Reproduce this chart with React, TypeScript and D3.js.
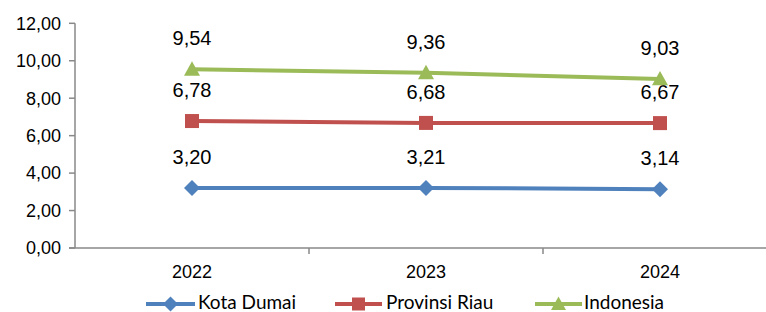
import React from 'react';
import * as d3 from 'd3';

const years = ['2022', '2023', '2024'];
const kotaDumai = [3.2, 3.21, 3.14];
const provinsiRiau = [6.78, 6.68, 6.67];
const indonesia = [9.54, 9.36, 9.03];
const yTicks = [0, 2, 4, 6, 8, 10, 12];

const series = [
  { name: 'Kota Dumai', values: kotaDumai, color: '#4F81BD', shape: 'diamond' },
  { name: 'Provinsi Riau', values: provinsiRiau, color: '#C0504D', shape: 'square' },
  { name: 'Indonesia', values: indonesia, color: '#9BBB59', shape: 'triangle' },
];

const fmt = (v: number) => v.toFixed(2).replace('.', ',');

function Marker({ shape, x, y, color, size }: { shape: string; x: number; y: number; color: string; size: number }) {
  if (shape === 'square') {
    return <rect x={x - size / 2} y={y - size / 2} width={size} height={size} fill={color} />;
  }
  if (shape === 'diamond') {
    const r = size / 2 + 1;
    return <path d={`M${x},${y - r}L${x + r},${y}L${x},${y + r}L${x - r},${y}Z`} fill={color} />;
  }
  const r = size / 2 + 1;
  return <path d={`M${x},${y - r}L${x + r},${y + r * 0.8}L${x - r},${y + r * 0.8}Z`} fill={color} />;
}

export default function App() {
  const width = 766;
  const height = 312;
  const left = 75;
  const top = 23.3;
  const bottom = 248;

  const x = d3.scaleBand<string>().domain(years).range([left, left + 234 * 3]);
  const y = d3.scaleLinear().domain([0, 12]).range([bottom, top]);
  const cx = (d: string) => x(d)! + x.bandwidth() / 2;

  const line = d3
    .line<number>()
    .x((_, i) => cx(years[i]))
    .y((v) => y(v));

  const axisColor = '#898989';
  const legend = [
    { x0: 146, x1: 195, tx: 198 },
    { x0: 335, x1: 382, tx: 386 },
    { x0: 535, x1: 582, tx: 584 },
  ];

  return (
    <svg width={width} height={height} style={{ position: 'absolute', left: 0, top: 0, background: '#fff' }}>
      {/* y axis */}
      <line x1={left} x2={left} y1={top} y2={bottom} stroke={axisColor} strokeWidth={1.5} />
      {yTicks.map((t) => (
        <g key={t}>
          <line x1={left - 6} x2={left} y1={y(t)} y2={y(t)} stroke={axisColor} strokeWidth={1.5} />
          <text
            x={61}
            y={y(t)}
            dy="0.35em"
            textAnchor="end"
            fontFamily="Liberation Sans, Arial, sans-serif"
            fontSize={18}
            fill="#000"
          >
            {fmt(t)}
          </text>
        </g>
      ))}
      {/* x axis */}
      <line x1={left - 6} x2={width} y1={bottom} y2={bottom} stroke={axisColor} strokeWidth={1.5} />
      {years.slice(1).map((yr) => (
        <line key={yr} x1={x(yr)!} x2={x(yr)!} y1={bottom} y2={bottom + 6} stroke={axisColor} strokeWidth={1.5} />
      ))}
      {years.map((yr) => (
        <text
          key={yr}
          x={cx(yr)}
          y={278}
          textAnchor="middle"
          fontFamily="Liberation Sans, Arial, sans-serif"
          fontSize={18}
          fill="#000"
        >
          {yr}
        </text>
      ))}
      {/* series */}
      {series.map((s) => (
        <g key={s.name}>
          <path d={line(s.values)!} fill="none" stroke={s.color} strokeWidth={4} />
          {s.values.map((v, i) => (
            <Marker key={i} shape={s.shape} x={cx(years[i])} y={y(v)} color={s.color} size={14} />
          ))}
          {s.values.map((v, i) => (
            <text
              key={'l' + i}
              x={cx(years[i])}
              y={y(v) - 24}
              textAnchor="middle"
              fontFamily="Liberation Sans, Arial, sans-serif"
              fontSize={20}
              fill="#000"
            >
              {fmt(v)}
            </text>
          ))}
        </g>
      ))}
      {/* legend */}
      {series.map((s, i) => {
        const l = legend[i];
        return (
          <g key={'lg' + s.name}>
            <line x1={l.x0} x2={l.x1} y1={304} y2={304} stroke={s.color} strokeWidth={4} />
            <Marker shape={s.shape} x={(l.x0 + l.x1) / 2} y={304} color={s.color} size={13} />
            <text x={l.tx} y={309} fontFamily="Lato, Carlito, sans-serif" fontSize={19} fill="#000">
              {s.name}
            </text>
          </g>
        );
      })}
    </svg>
  );
}
